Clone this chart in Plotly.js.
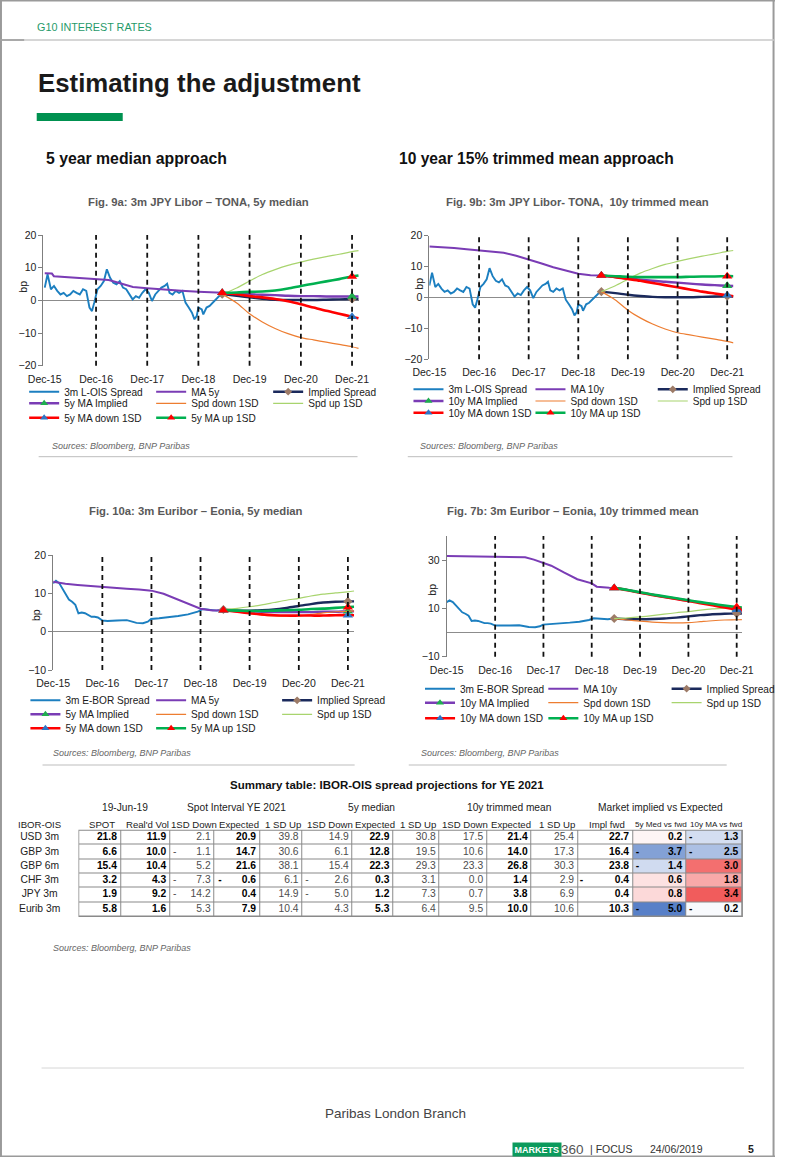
<!DOCTYPE html>
<html><head><meta charset="utf-8">
<script src="https://cdn.plot.ly/plotly-3.0.1.min.js"></script>
<style>html,body{margin:0;padding:0;background:#fff;overflow:hidden}#page{width:802px;height:1157px}</style>
</head><body><div id="page"></div>
<script>
// ---------------- DATA ----------------
const tickDates = ['2015-12-31','2016-12-31','2017-12-31','2018-12-31','2019-12-31','2020-12-31','2021-12-31'];
const tickLabels = ['Dec-15','Dec-16','Dec-17','Dec-18','Dec-19','Dec-20','Dec-21'];

// 3m JPY Libor - TONA spread (history)
const jpySpreadDates = ['2015-12-31','2016-01-20','2016-02-13','2016-03-06','2016-03-29','2016-04-21','2016-05-14','2016-06-06','2016-06-29','2016-07-22',
  '2016-08-14','2016-09-06','2016-09-29','2016-10-22','2016-11-14','2016-12-02','2016-12-18','2017-01-10','2017-02-02','2017-02-25',
  '2017-03-18','2017-04-10','2017-05-03','2017-05-26','2017-06-18','2017-07-11','2017-08-03','2017-08-26','2017-09-18','2017-10-11',
  '2017-11-03','2017-11-26','2017-12-19','2018-01-11','2018-02-03','2018-02-26','2018-03-19','2018-04-11','2018-05-04','2018-05-22',
  '2018-06-08','2018-06-30','2018-07-23','2018-08-15','2018-09-08','2018-09-30','2018-10-23','2018-11-15','2018-12-03','2018-12-19',
  '2018-12-31','2019-01-24','2019-02-04','2019-02-27','2019-03-21','2019-04-13','2019-05-06','2019-05-28','2019-06-19'];
const jpySpread = [3.9, 8.0, 3.4, 4.4, 2.9, 1.8, 2.3, 1.3, 1.8, 2.9,
  2.3, 1.8, 3.4, 2.9, -2.2, -3.3, -0.7, 3.4, 4.4, 5.9,
  9.5, 6.9, 5.4, 4.9, 5.9, 3.9, 3.4, 1.8, 0.3, 1.3,
  0.8, 2.3, 3.4, 2.3, -0.2, 1.8, 2.9, 3.9, 4.4, 5.1,
  2.3, 1.8, 2.9, 2.3, 2.9, -0.7, -2.2, -3.8, -5.8, -4.8,
  -2.2, -2.8, -4.3, -2.2, -1.7, -0.7, 0.3, 1.3, 1.9];
const jpyMa5Dates = ['2015-12-31','2016-02-20','2016-03-05','2016-06-30','2016-09-30','2016-12-31','2017-03-31','2017-05-15','2017-07-10','2017-09-20','2017-12-31','2018-04-30','2018-08-31','2018-12-31','2019-06-19'];
const jpyMa5 = [8.3, 8.2, 7.4, 7.1, 6.8, 6.6, 6.2, 5.7, 4.9, 4.1, 3.7, 3.2, 2.9, 2.6, 2.3];
const jpyMa10Dates = ['2015-12-31','2016-03-31','2016-06-30','2016-09-30','2016-12-31','2017-03-31','2017-06-30','2017-09-30','2017-12-31','2018-03-31','2018-06-30','2018-09-30','2018-12-31','2019-03-31','2019-06-19'];
const jpyMa10 = [16.5, 16.3, 16.0, 15.6, 15.2, 14.9, 14.5, 13.5, 12.4, 11.1, 9.8, 8.7, 7.7, 7.2, 7.1];

// projections (Jun-19 .. early 2022)
const projDates = ['2019-06-19','2019-09-30','2019-12-31','2020-03-31','2020-06-30','2020-09-30','2020-12-31','2021-03-31','2021-06-30','2021-09-30','2021-12-31','2022-02-15'];
const jpyImplied  = [1.9, 1.4, 0.9, 0.5, 0.2, 0.1, 0.1, 0.1, 0.2, 0.3, 0.4, 0.4];
const jpySpdDown  = [1.9, -0.8, -4.1, -6.6, -8.6, -10.2, -11.4, -12.1, -12.8, -13.5, -14.2, -14.7];
const jpySpdUp    = [1.9, 3.8, 5.9, 7.9, 9.4, 10.7, 11.7, 12.6, 13.4, 14.1, 14.9, 15.2];
const jpy5yImpl   = [2.3, 2.1, 1.9, 1.7, 1.6, 1.4, 1.3, 1.3, 1.2, 1.2, 1.2, 1.2];
const jpy5yDown   = [2.3, 1.9, 1.3, 0.9, 0.4, -0.3, -1.2, -2.2, -3.2, -4.1, -5.0, -5.5];
const jpy5yUp     = [2.3, 2.4, 2.6, 2.7, 3.0, 3.6, 4.4, 5.1, 5.8, 6.5, 7.3, 7.6];
const jpy10yImpl  = [7.1, 6.6, 6.2, 5.8, 5.4, 5.1, 4.8, 4.5, 4.2, 4.0, 3.8, 3.7];
const jpy10yDown  = [7.1, 6.6, 6.0, 5.4, 4.7, 4.0, 3.3, 2.6, 1.9, 1.3, 0.7, 0.4];
const jpy10yUp    = [7.1, 6.9, 6.7, 6.6, 6.6, 6.6, 6.6, 6.7, 6.8, 6.8, 6.9, 6.9];

// 3m Euribor - Eonia spread (history)
const eurSpreadDates = ['2015-12-31','2016-01-21','2016-02-15','2016-03-09','2016-04-02','2016-04-26','2016-05-20','2016-06-13','2016-07-06','2016-07-31',
  '2016-08-24','2016-09-17','2016-10-11','2016-11-04','2016-11-28','2017-01-01','2017-02-08','2017-04-20','2017-07-01','2017-09-11',
  '2017-10-29','2017-12-04','2017-12-28','2018-02-26','2018-05-07','2018-07-18','2018-09-29','2018-12-10','2019-01-15','2019-03-14',
  '2019-05-01','2019-06-19'];
const eurSpread = [12.6, 13.3, 12.6, 11.3, 10.0, 8.4, 7.8, 7.0, 4.8, 5.0,
  4.8, 4.3, 3.9, 3.9, 3.7, 2.9, 2.8, 2.9, 3.0, 2.3,
  2.2, 2.6, 3.3, 3.5, 3.7, 4.1, 4.5, 5.2, 5.9, 5.6,
  5.5, 5.8];
const eurMa5Dates = ['2015-12-31','2016-03-31','2016-06-30','2016-09-30','2016-12-31','2017-03-31','2017-06-30','2017-09-30','2017-12-31','2018-03-31','2018-06-30','2018-09-30','2018-11-30','2018-12-31','2019-03-31','2019-06-19'];
const eurMa5 = [13.0, 12.5, 12.2, 11.9, 11.6, 11.4, 11.2, 11.0, 10.7, 9.9, 8.6, 7.3, 6.5, 6.0, 5.5, 5.6];
const eurMa10Dates = ['2015-12-31','2016-06-30','2016-12-31','2017-06-30','2017-08-15','2017-10-20','2017-12-31','2018-02-28','2018-06-07','2018-09-13','2018-12-31','2019-02-07','2019-05-13','2019-06-19'];
const eurMa10 = [31.7, 31.6, 31.6, 31.4, 31.2, 30.2, 29.0, 27.7, 24.8, 22.1, 20.4, 19.0, 18.6, 18.5];
const eurImplied  = [5.8, 5.5, 5.5, 5.6, 5.8, 6.2, 6.7, 7.2, 7.6, 7.8, 7.9, 7.9];
const eurSpdDown  = [5.8, 5.2, 4.7, 4.3, 4.1, 4.0, 4.1, 4.5, 4.9, 5.2, 5.3, 5.4];
const eurSpdUp    = [5.8, 6.1, 6.5, 7.0, 7.6, 8.2, 8.7, 9.3, 9.8, 10.1, 10.4, 10.6];
const eur5yImpl   = [5.6, 5.4, 5.3, 5.2, 5.1, 5.1, 5.1, 5.1, 5.2, 5.2, 5.3, 5.3];
const eur5yDown   = [5.6, 5.2, 4.8, 4.5, 4.3, 4.2, 4.2, 4.2, 4.2, 4.3, 4.3, 4.3];
const eur5yUp     = [5.6, 5.5, 5.4, 5.4, 5.5, 5.6, 5.7, 5.9, 6.0, 6.2, 6.4, 6.5];
const eur10yImpl  = [18.5, 17.6, 16.6, 15.7, 14.8, 14.0, 13.2, 12.4, 11.6, 10.8, 10.0, 9.6];
const eur10yDown  = [18.5, 17.5, 16.5, 15.6, 14.7, 13.9, 13.1, 12.2, 11.3, 10.4, 9.5, 9.0];
const eur10yUp    = [18.5, 17.6, 16.7, 15.8, 15.0, 14.2, 13.4, 12.6, 11.9, 11.2, 10.6, 10.3];

// legend names
const names9a  = ['3m L-OIS Spread','MA 5y','Implied Spread','5y MA Implied','Spd down 1SD','Spd up 1SD','5y MA down 1SD','5y MA up 1SD'];
const names9b  = ['3m L-OIS Spread','MA 10y','Implied Spread','10y MA Implied','Spd down 1SD','Spd up 1SD','10y MA down 1SD','10y MA up 1SD'];
const names10a = ['3m E-BOR Spread','MA 5y','Implied Spread','5y MA Implied','Spd down 1SD','Spd up 1SD','5y MA down 1SD','5y MA up 1SD'];
const names7b  = ['3m E-BOR Spread','MA 10y','Implied Spread','10y MA Implied','Spd down 1SD','Spd up 1SD','10y MA down 1SD','10y MA up 1SD'];
const figTitles = ['Fig. 9a: 3m JPY Libor \u2013 TONA, 5y median','Fig. 9b: 3m JPY Libor- TONA,\u00a0 10y trimmed mean',
  'Fig. 10a: 3m Euribor \u2013 Eonia, 5y median','Fig. 7b: 3m Euribor \u2013 Eonia, 10y trimmed mean'];

// summary table
const tableRows = ['USD 3m','GBP 3m','GBP 6m','CHF 3m','JPY 3m','Eurib 3m'];
const tableHeaders = ['IBOR-OIS','SPOT',"Real'd Vol",'1SD Down','Expected','1 SD Up','1SD Down','Expected','1 SD Up','1SD Down','Expected','1 SD Up','Impl fwd','5y Med vs fwd','10y MA vs fwd'];
const groupHeaders = ['19-Jun-19','Spot Interval YE 2021','5y median','10y trimmed mean','Market implied vs Expected'];
const spot      = [21.8, 6.6, 15.4, 3.2, 1.9, 5.8];
const realVol   = [11.9, 10.0, 10.4, 4.3, 9.2, 1.6];
const spotDown  = [2.1, -1.1, 5.2, -7.3, -14.2, 5.3];
const spotExp   = [20.9, 14.7, 21.6, -0.6, 0.4, 7.9];
const spotUp    = [39.8, 30.6, 38.1, 6.1, 14.9, 10.4];
const med5Down  = [14.9, 6.1, 15.4, -2.6, -5.0, 4.3];
const med5Exp   = [22.9, 12.8, 22.3, 0.3, 1.2, 5.3];
const med5Up    = [30.8, 19.5, 29.3, 3.1, 7.3, 6.4];
const tm10Down  = [17.5, 10.6, 23.3, 0.0, 0.7, 9.5];
const tm10Exp   = [21.4, 14.0, 26.8, 1.4, 3.8, 10.0];
const tm10Up    = [25.4, 17.3, 30.3, 2.9, 6.9, 10.6];
const implFwd   = [22.7, 16.4, 23.8, -0.4, 0.4, 10.3];
const med5VsFwd = [0.2, -3.7, -1.4, 0.6, 0.8, -5.0];
const ma10VsFwd = [-1.3, -2.5, 3.0, 1.8, 3.4, -0.2];

// ---------------- LAYOUT / STYLE ----------------
const F = 'Liberation Sans, Arial, Helvetica, sans-serif';
const W = 802, H = 1157;
const px = x => x / W;
const py = y => 1 - y / H;

const geo = [
  {xd:[45,372], yd:[235,365.7], xr:['2015-12-22','2022-02-22'], yr:[-20,20], yt:[-20,-10,0,10,20], lso:6,
   legX:[33,155,267], legY:[391.7,403.3,417.7], title:[205.6,201.7], bp:[23.5,287], src:[52.7,446], sep:[40,370,456.7]},
  {xd:[444.3,759], yd:[235.7,359.3], xr:['2015-12-31','2022-02-15'], yr:[-20,20], yt:[-20,-10,0,10,20], lso:5,
   legX:[430.7,547.7,665], legY:[389.3,401,412.7], title:[598,202.3], bp:[433.3,284], src:[433.3,446], sep:[422,758,456.7]},
  {xd:[55,366.7], yd:[555,670], xr:['2015-12-31','2022-02-17'], yr:[-10,20], yt:[-10,0,10,20], lso:5,
   legX:[34.3,155,276], legY:[700.3,714.3,728.3], title:[203,511], bp:[37.3,615], src:[54.3,753.3], sep:[44,367,765]},
  {xd:[462.3,767.7], yd:[536,656.7], xr:['2015-12-31','2022-02-08'], yr:[-10,40], yt:[-10,10,30], lso:6,
   legX:[442.7,561,679.3], legY:[688.7,702.7,718.3], title:[592.5,511], bp:[446.7,590], src:[435,753.3], sep:[423,752,765]}
];

const keys = ['spread','ma','implied','maImpl','spdDown','spdUp','maDown','maUp'];
const ST = {
  spread:  {color:'#1c7fc0', width:1.9},
  ma:      {color:'#7a3cb5', width:2},
  implied: {color:'#1b2a5c', width:2.4, msym:'diamond', mcol:'#9d7b67', msize:7, lsize:6, smooth:true},
  maImpl:  {color:'#7a3cb5', width:2.4, msym:'triangle-up', mcol:'#1fae4f', msize:9, lsize:7, smooth:true},
  spdDown: {color:'#ed7d31', width:1.2, smooth:true},
  spdUp:   {color:'#a8d46e', width:1.2, smooth:true},
  maDown:  {color:'#ff0000', width:2.6, msym:'triangle-up', mcol:'#2e75c6', msize:9, lsize:7, smooth:true},
  maUp:    {color:'#00b050', width:2.6, msym:'triangle-up', mcol:'#ff0000', msize:9, lsize:7, smooth:true}
};
const rowOf = [0,0,0,1,1,1,2,2], colOf = [0,1,2,0,1,2,0,1];

const charts = [
  {names:names9a, s:[[jpySpreadDates,jpySpread],[jpyMa5Dates,jpyMa5],[projDates,jpyImplied],[projDates,jpy5yImpl],[projDates,jpySpdDown],[projDates,jpySpdUp],[projDates,jpy5yDown],[projDates,jpy5yUp]]},
  {names:names9b, s:[[jpySpreadDates,jpySpread],[jpyMa10Dates,jpyMa10],[projDates,jpyImplied],[projDates,jpy10yImpl],[projDates,jpySpdDown],[projDates,jpySpdUp],[projDates,jpy10yDown],[projDates,jpy10yUp]]},
  {names:names10a, s:[[eurSpreadDates,eurSpread],[eurMa5Dates,eurMa5],[projDates,eurImplied],[projDates,eur5yImpl],[projDates,eurSpdDown],[projDates,eurSpdUp],[projDates,eur5yDown],[projDates,eur5yUp]]},
  {names:names7b, s:[[eurSpreadDates,eurSpread],[eurMa10Dates,eurMa10],[projDates,eurImplied],[projDates,eur10yImpl],[projDates,eurSpdDown],[projDates,eurSpdUp],[projDates,eur10yDown],[projDates,eur10yUp]]}
];

const traces = [];
const shapes = [];
const ann = [];
const layout = {width:W, height:H, margin:{l:0,r:0,t:0,b:0}, paper_bgcolor:'#ffffff', plot_bgcolor:'rgba(0,0,0,0)',
  showlegend:true, font:{family:F, color:'#222'}, hovermode:false};

function txt(text, x, y, o) {
  o = o || {};
  return {text:text, x:px(x), y:py(y), xref:'paper', yref:'paper', showarrow:false,
    xanchor:o.xa || 'left', yanchor:'middle', textangle:o.ang || 0,
    font:{family:o.f || F, size:o.s || 11, color:o.c || '#222'},
    bgcolor:o.bg, borderpad:o.bp === undefined ? 0 : o.bp};
}
function hline(x0, x1, y, color, width) {
  shapes.push({type:'line', xref:'paper', yref:'paper', x0:px(x0), x1:px(x1), y0:py(y), y1:py(y), line:{color:color, width:width}});
}
function vline(x, y0, y1, color, width) {
  shapes.push({type:'line', xref:'paper', yref:'paper', x0:px(x), x1:px(x), y0:py(y0), y1:py(y1), line:{color:color, width:width}});
}

charts.forEach(function(ch, ci) {
  const g = geo[ci];
  const sfx = ci === 0 ? '' : String(ci + 1);
  const xa = 'x' + sfx, ya = 'y' + sfx;
  layout['xaxis' + sfx] = {type:'date', domain:[px(g.xd[0]), px(g.xd[1])], range:g.xr, anchor:ya,
    tickmode:'array', tickvals:tickDates, ticktext:tickLabels, ticks:'', showline:false, showgrid:false, zeroline:false,
    ticklabelstandoff:g.lso, tickfont:{family:F, size:10.5, color:'#222'}, fixedrange:true};
  layout['yaxis' + sfx] = {domain:[py(g.yd[1]), py(g.yd[0])], range:g.yr, anchor:xa,
    tickmode:'array', tickvals:g.yt, ticks:'outside', ticklen:4, tickcolor:'#7f7f7f', showline:true, linecolor:'#7f7f7f', linewidth:1,
    showgrid:false, zeroline:true, zerolinecolor:'#8c8c8c', zerolinewidth:1.5,
    tickfont:{family:F, size:10.5, color:'#222'}, fixedrange:true};

  ch.s.forEach(function(s, k) {
    const st = ST[keys[k]];
    traces.push({type:'scatter', mode:'lines', x:s[0], y:s[1], xaxis:xa, yaxis:ya, showlegend:false, hoverinfo:'skip',
      line:{color:st.color, width:st.width, shape:st.smooth ? 'spline' : 'linear', smoothing:0.8}});
    if (st.msym) {
      const iEnd = s[0].indexOf(tickDates[tickDates.length - 1]);
      traces.push({type:'scatter', mode:'markers', x:[s[0][0], s[0][iEnd]], y:[s[1][0], s[1][iEnd]], xaxis:xa, yaxis:ya,
        showlegend:false, hoverinfo:'skip', marker:{symbol:st.msym, color:st.mcol, size:st.msize}});
    }
  });
  ch.names.forEach(function(nm, k) {
    const st = ST[keys[k]];
    const r = rowOf[k], c = colOf[k];
    const lid = ci * 3 + r + 1;
    const lkey = lid === 1 ? 'legend' : 'legend' + lid;
    const lw = c < 2 ? (g.legX[c + 1] - g.legX[c] - 40) : 90;
    const t = {type:'scatter', mode:st.msym ? 'lines+markers' : 'lines', x:[null], y:[null], xaxis:xa, yaxis:ya,
      name:nm, legend:lkey, legendwidth:lw, hoverinfo:'skip', line:{color:st.color, width:st.width}};
    if (st.msym) t.marker = {symbol:st.msym, color:st.mcol, size:st.lsize};
    traces.push(t);
  });
  for (let r = 0; r < 3; r++) {
    const lid = ci * 3 + r + 1;
    const lkey = lid === 1 ? 'legend' : 'legend' + lid;
    layout[lkey] = {x:px(g.legX[0] - 8), xanchor:'left', y:py(g.legY[r]), yanchor:'middle', orientation:'h',
      bgcolor:'rgba(0,0,0,0)', borderwidth:0, itemwidth:30, traceorder:'normal', itemclick:false, itemdoubleclick:false,
      font:{family:F, size:10.1, color:'#1a1a1a'}};
  }
  tickDates.slice(1).forEach(function(d) {
    shapes.push({type:'line', xref:xa, yref:ya + ' domain', x0:d, x1:d, y0:0, y1:1, layer:'above',
      line:{color:'#111', width:1.8, dash:'5px,4px'}});
  });
  ann.push(txt('<b>' + figTitles[ci] + '</b>', g.title[0], g.title[1], {xa:'center', s:11.3, c:'#595959'}));
  ann.push(txt('bp', g.bp[0], g.bp[1], {xa:'center', s:10.5, ang:-90}));
  ann.push(txt('<i>Sources: Bloomberg, BNP Paribas</i>', g.src[0], g.src[1], {s:9, c:'#666'}));
  hline(g.sep[0], g.sep[1], g.sep[2], '#bdbdbd', 1);
});

// ---------------- page furniture ----------------
hline(0, 802, 0.8, '#9a9a9a', 1.5);
hline(0, 802, 1156.3, '#9a9a9a', 1.5);
vline(1, 0, 1157, '#9a9a9a', 2);
vline(800.5, 0, 1157, '#9a9a9a', 2);
hline(0, 802, 40, '#c8c8c8', 1.5);
hline(0, 25, 40, '#9a9a9a', 1.5);
shapes.push({type:'rect', xref:'paper', yref:'paper', x0:px(38), x1:px(127), y0:py(121), y1:py(113), fillcolor:'#009150', line:{width:0}});
hline(43, 770, 1068, '#d6d6d6', 1);

ann.push(txt('G10 INTEREST RATES', 37, 26.7, {s:10.8, c:'#1f9a6a'}));
ann.push(txt('<b>Estimating the adjustment</b>', 38, 83, {s:25.8, c:'#1a1a1a'}));
ann.push(txt('<b>5 year median approach</b>', 47, 158, {s:15.8, c:'#111'}));
ann.push(txt('<b>10 year 15% trimmed mean approach</b>', 412, 158, {s:15.6, c:'#111'}));
ann.push(txt('<b>Summary table: IBOR-OIS spread projections for YE 2021</b>', 400, 785, {xa:'center', s:11.5, c:'#111'}));
ann.push(txt('<i>Sources: Bloomberg, BNP Paribas</i>', 54, 948, {s:9, c:'#666'}));
ann.push(txt('Paribas London Branch', 409, 1113, {xa:'center', s:13.5, c:'#444'}));
ann.push(txt('<b>MARKETS</b>', 556, 1149, {xa:'center', s:9, c:'#ffffff', bg:'#0b9a5c', bp:1.5}));
ann.push(txt('360', 580, 1149, {s:13.5, c:'#555'}));
ann.push(txt('| FOCUS', 610, 1149, {s:10.5, c:'#333'}));
ann.push(txt('24/06/2019', 672, 1149, {s:10.5, c:'#333'}));
ann.push(txt('<b>5</b>', 773, 1149, {s:10.5, c:'#222'}));

// ---------------- summary table (heatmap cells + text) ----------------
const colW = [82, 43, 51, 46, 47, 44, 52, 42, 48, 49, 46, 48, 57, 55, 58];
const numCols = [spot, realVol, spotDown, spotExp, spotUp, med5Down, med5Exp, med5Up, tm10Down, tm10Exp, tm10Up, implFwd, med5VsFwd, ma10VsFwd];
const heatCols = [12, 13];                 // indices in numCols that are colour-scaled
const boldCols = [true, true, false, true, false, false, true, false, false, true, false, true, true, true];
const colStart = colW.map(function(w, i) { return colW.slice(0, i).reduce(function(a, b) { return a + b; }, 0); });
const totalW = colW.reduce(function(a, b) { return a + b; }, 0);
const tableTop = 830.5, rowH = 14.3, nRows = tableRows.length;
const tableBottom = tableTop + rowH * nRows;
const NB = '\u00a0';
const FS = 10.3;
function fmt(v, w) {
  const s = Math.abs(v).toFixed(1);
  if (v >= 0) return s;
  const numW = (s.length - 1) * FS * 0.556 + FS * 0.278;
  const n = Math.max(1, Math.round((w - 8 - FS * 0.333 - numW) / (FS * 0.278)));
  return '-' + NB.repeat(n) + s;
}
layout.xaxis5 = {domain:[0, px(totalW)], range:[0, totalW], visible:false, fixedrange:true, anchor:'y5'};
layout.yaxis5 = {domain:[py(tableBottom), py(tableTop)], range:[nRows, 0], visible:false, fixedrange:true, anchor:'x5'};
shapes.push({type:'rect', xref:'paper', yref:'paper', layer:'below', x0:px(colStart[1] - 0.8), x1:px(totalW + 0.8),
  y0:py(tableBottom + 0.8), y1:py(tableTop - 0.8), fillcolor:'#8a8a8a', line:{width:0}});
const heatVals = med5VsFwd.concat(ma10VsFwd);
const lo = Math.min.apply(null, heatVals), hi = Math.max.apply(null, heatVals);
const zCells = tableRows.map(function(_, r) {
  return numCols.map(function(col, j) { return heatCols.indexOf(j) >= 0 ? col[r] : 0; });
});
const xEdges = colStart.slice(1).concat([totalW]);
const yEdges = tableRows.map(function(_, r) { return r; }).concat([nRows]);
const mid = -lo / (hi - lo);
traces.push({type:'heatmap', xaxis:'x5', yaxis:'y5', x:xEdges, y:yEdges, z:zCells, zmin:lo, zmax:hi,
  colorscale:[[0, 'rgb(88,128,200)'], [mid, '#ffffff'], [1, 'rgb(241,92,92)']], showscale:false, xgap:1, ygap:1, hoverinfo:'skip'});
function cellText(bold) {
  const x = [], y = [], t = [];
  numCols.forEach(function(col, j) {
    if (boldCols[j] !== bold) return;
    col.forEach(function(v, r) {
      x.push(colStart[j + 1] + colW[j + 1] - 4);
      y.push(r + 0.5);
      t.push(fmt(v, colW[j + 1]));
    });
  });
  return {type:'scatter', mode:'text', xaxis:'x5', yaxis:'y5', x:x, y:y, text:t, textposition:'middle left',
    cliponaxis:false, showlegend:false, hoverinfo:'skip',
    textfont:{family:F, size:FS, color:bold ? '#000' : '#4d4d4d', weight:bold ? 700 : 400}};
}
traces.push(cellText(false));
traces.push(cellText(true));
traces.push({type:'scatter', mode:'text', xaxis:'x5', yaxis:'y5', x:tableRows.map(function() { return colW[0] / 2; }),
  y:tableRows.map(function(_, r) { return r + 0.5; }), text:tableRows, textposition:'middle center', cliponaxis:false,
  showlegend:false, hoverinfo:'skip', textfont:{family:F, size:FS, color:'#222'}});
tableHeaders.forEach(function(h, j) {
  ann.push(txt(h, colStart[j] + colW[j] / 2 + (j ? 2 : 0), 824, {xa:'center', s: j >= 13 ? 8.1 : 9.6, c:'#222'}));
});
const groups = [[1,2],[3,5],[6,8],[9,11],[12,14]];
groups.forEach(function(gr, i) {
  const x0 = colStart[gr[0]], x1 = colStart[gr[1]] + colW[gr[1]];
  ann.push(txt(groupHeaders[i], (x0 + x1) / 2, 808, {xa:'center', s:10.2, c:'#222'}));
});

layout.shapes = shapes;
layout.annotations = ann;
Plotly.newPlot('page', traces, layout, {staticPlot:true, displayModeBar:false});
</script></body></html>
